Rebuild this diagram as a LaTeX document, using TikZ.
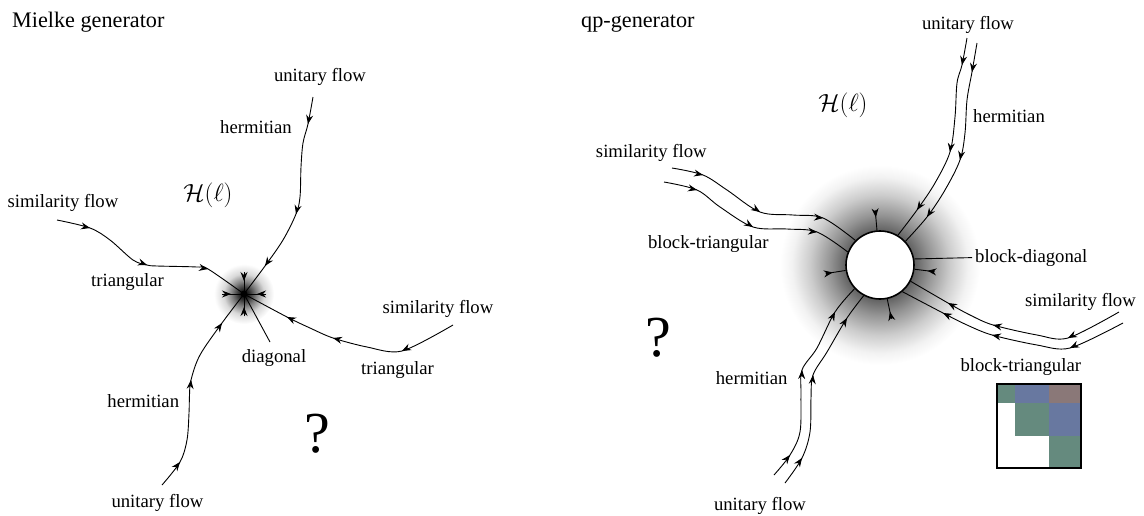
\documentclass[tikz,border=0pt]{standalone}
\usepackage{fontspec}
\setmainfont{Liberation Serif}
\usetikzlibrary{arrows.meta,calc}

% soft halo round the fixed points (25bp is the rim of the shaded circle)
\pgfdeclareradialshading{dotglow}{\pgfpoint{0bp}{0bp}}{color(0bp)=(black); color(4bp)=(black!85); color(10bp)=(black!50); color(17bp)=(black!15); color(25bp)=(white); color(50bp)=(white)}
\pgfdeclareradialshading{ringglow}{\pgfpoint{0bp}{0bp}}{color(0bp)=(black!65); color(8.5bp)=(black!62); color(12.5bp)=(black!42); color(17.5bp)=(black!20); color(22bp)=(black!5); color(25bp)=(white); color(50bp)=(white)}

\definecolor{blkgreen}{RGB}{101,138,126}
\definecolor{blkblue}{RGB}{104,120,160}
\definecolor{blkbrown}{RGB}{138,120,120}

\tikzset{
  flow/.style={line width=0.9pt, line join=round},
  tipd/.style={-{Stealth[length=9pt,width=7pt,inset=3pt]}},
  lbl/.style={font=\fontsize{18.7}{22}\selectfont, inner sep=0pt, anchor=base},
  ttl/.style={font=\fontsize{22.2}{26}\selectfont, inner sep=0pt, anchor=base west},
  qm/.style={font=\fontsize{58}{60}\selectfont, inner sep=0pt, anchor=base},
  hl/.style={font=\fontsize{25}{30}\selectfont, inner sep=0pt},
}
% arrow head sitting on a flow line at #2, coming from the direction of #1
\newcommand\tipat[2]{\draw[flow,tipd] ($(#2)!1pt!(#1)$) -- (#2);}

\begin{document}
\begin{tikzpicture}[x=1pt,y=-1pt]
\useasboundingbox (0,0) rectangle (1144,515);

% halos go underneath everything else
\shade[shading=dotglow] (244,294) circle (30);
\shade[shading=ringglow] (880,265) circle (100);

% ---------------- Mielke generator ----------------
\node[ttl] (t1) at (12,27) {Mielke generator};
\node[hl] (h1) at (208,195) {$\mathcal{H}(\ell)$};
\node[lbl] (lu1) at (320,81) {unitary flow};
\node[lbl] (lh1) at (256,133) {hermitian};
\node[lbl] (ls1) at (63,207) {similarity flow};
\node[lbl] (lt1) at (127.5,286) {triangular};
\node[lbl] (ld1) at (274,362) {diagonal};
\node[lbl] (ls2) at (438,313) {similarity flow};
\node[lbl] (lt2) at (397.5,374) {triangular};
\node[lbl] (lh2) at (143.3,407) {hermitian};
\node[lbl] (lu2) at (157.5,507) {unitary flow};
\node[qm] (q1) at (317,452) {?};

\node[circle, fill=black, inner sep=0pt, minimum size=7pt] (c1) at (244,294) {};

\coordinate (a1) at (313,97);
\coordinate (a2) at (57,220);
\coordinate (a3) at (453,325);
\coordinate (a4) at (162,485);
\coordinate (dtip) at (270,342);

\draw[flow] plot[smooth, tension=0.55] coordinates
  {(a1) (308,124) (303,143) (301,167) (300,197) (296,214) (283,240) (265,266) (c1.center)};
\tipat{313,97}{308,124} \tipat{300,197}{296,214} \tipat{283,240}{265,266}
\draw[flow] plot[smooth, tension=0.55] coordinates
  {(a2) (90,228) (110,240) (133,260) (147,265) (157,266) (197,267) (208,269) (c1.center)};
\tipat{57,220}{90,228} \tipat{133,260}{147,265} \tipat{197,267}{208,269}
\draw[flow] plot[smooth, tension=0.5] coordinates
  {(a3) (402,351) (367,347) (333,338) (310,328) (287,317) (c1.center)};
\tipat{453,325}{402,351} \tipat{367,347}{333,338} \tipat{310,328}{287,317}
\draw[flow] plot[smooth, tension=0.55] coordinates
  {(a4) (180,462) (187,440) (189,413) (189.5,395) (191,380) (200,355) (222,323) (c1.center)};
\tipat{162,485}{180,462} \tipat{189.5,395}{191,380} \tipat{200,355}{222,323}
\draw[flow] (c1.center) -- (dtip);

% short incoming directions at the fixed point
\foreach \dx/\dy in {0/-1, 0/1, -1/0, 1/0}{
  \draw[flow] ($(c1.center)+(22*\dx,22*\dy)$) -- (c1.center);
  \draw[flow,tipd] ($(c1.center)+(22*\dx,22*\dy)$) -- ($(c1.center)+(13*\dx,13*\dy)$);
}

% ---------------- qp-generator ----------------
\node[ttl] (t2) at (581,27) {qp-generator};
\node[hl] (h2) at (843,105) {$\mathcal{H}(\ell)$};
\node[lbl] (ru1) at (968,29) {unitary flow};
\node[lbl] (rh1) at (1009,122) {hermitian};
\node[lbl] (rs1) at (651.3,157) {similarity flow};
\node[lbl] (rb1) at (708.3,248) {block-triangular};
\node[lbl, anchor=base west] (bd) at (975,262) {block-diagonal};
\node[lbl] (rs2) at (1080.5,306) {similarity flow};
\node[lbl] (rb2) at (1020.8,371) {block-triangular};
\node[lbl] (rh2) at (751.7,384) {hermitian};
\node[lbl] (ru2) at (760,510) {unitary flow};
\node[qm] (q2) at (658,356) {?};

\node[circle, draw, fill=white, line width=1.6pt, inner sep=0pt, minimum size=68pt] (rc) at (880,265) {};

\coordinate (b1) at (672,168);
\coordinate (b2) at (664,182);
\coordinate (b3) at (967,38);
\coordinate (b4) at (977,43);
\coordinate (b5) at (1119,312);
\coordinate (b6) at (1123,323);
\coordinate (b7) at (774,475);
\coordinate (b8) at (785,483);

\draw[flow] plot[smooth, tension=0.55] coordinates
  {(b1) (703,175) (727,190) (760,212) (793,215) (823,218) (rc.135)};
\tipat{672,168}{703,175} \tipat{727,190}{760,212} \tipat{793,215}{823,218}
\draw[flow] plot[smooth, tension=0.55] coordinates
  {(b2) (697,190) (720,207) (753,227) (787,229) (817,232) (rc.158)};
\tipat{664,182}{697,190} \tipat{720,207}{753,227} \tipat{787,229}{817,232}
\draw[flow] plot[smooth, tension=0.55] coordinates
  {(b3) (962,65) (957,83) (955,117) (950,152) (935,183) (917,210) (rc.59)};
\tipat{967,38}{962,65} \tipat{955,117}{950,152} \tipat{935,183}{917,210}
\draw[flow] plot[smooth, tension=0.55] coordinates
  {(b4) (972,72) (967,100) (965,133) (960,160) (945,190) (927,217) (rc.43)};
\tipat{977,43}{972,72} \tipat{965,133}{960,160} \tipat{945,190}{927,217}
\draw[flow] plot[smooth, tension=0.5] coordinates
  {(b5) (1068,338) (1037,335) (993,325) (970,315) (948,303) (rc.-28)};
\tipat{1119,312}{1068,338} \tipat{1037,335}{993,325} \tipat{970,315}{948,303}
\draw[flow] plot[smooth, tension=0.5] coordinates
  {(b6) (1070,348) (1037,345) (992,335) (967,325) (943,313) (rc.-50)};
\tipat{1123,323}{1070,348} \tipat{1037,345}{992,335} \tipat{967,325}{943,313}
\draw[flow] plot[smooth, tension=0.55] coordinates
  {(b7) (790,455) (800,432) (801,395) (802,370) (817,348) (835,312) (rc.223)};
\tipat{774,475}{790,455} \tipat{801,395}{802,370} \tipat{817,348}{835,312}
\draw[flow] plot[smooth, tension=0.55] coordinates
  {(b8) (802,458) (810,432) (811,398) (813,375) (827,352) (847,318) (rc.242)};
\tipat{785,483}{802,458} \tipat{811,398}{813,375} \tipat{827,352}{847,318}
\draw[flow, shorten >=3pt] (rc.10) -- (bd.west);

% short incoming directions at the ring
\foreach \a in {95, 189, -7, -78}{
  \draw[flow] ($(rc.\a)!-20pt!(rc.center)$) -- (rc.\a);
  \draw[flow,tipd] ($(rc.\a)!-20pt!(rc.center)$) -- ($(rc.\a)!-13pt!(rc.center)$);
}

% block structure of the matrix
\fill[blkgreen] (997,384) rectangle (1015,403);
\fill[blkblue] (1015,384) rectangle (1049,403);
\fill[blkbrown] (1049,384) rectangle (1081,403);
\fill[blkgreen] (1015,403) rectangle (1049,436);
\fill[blkblue] (1049,403) rectangle (1081,436);
\fill[blkgreen] (1049,436) rectangle (1081,468);
\draw[line width=1.4pt] (997,384) rectangle (1081,468);
\end{tikzpicture}
\end{document}
